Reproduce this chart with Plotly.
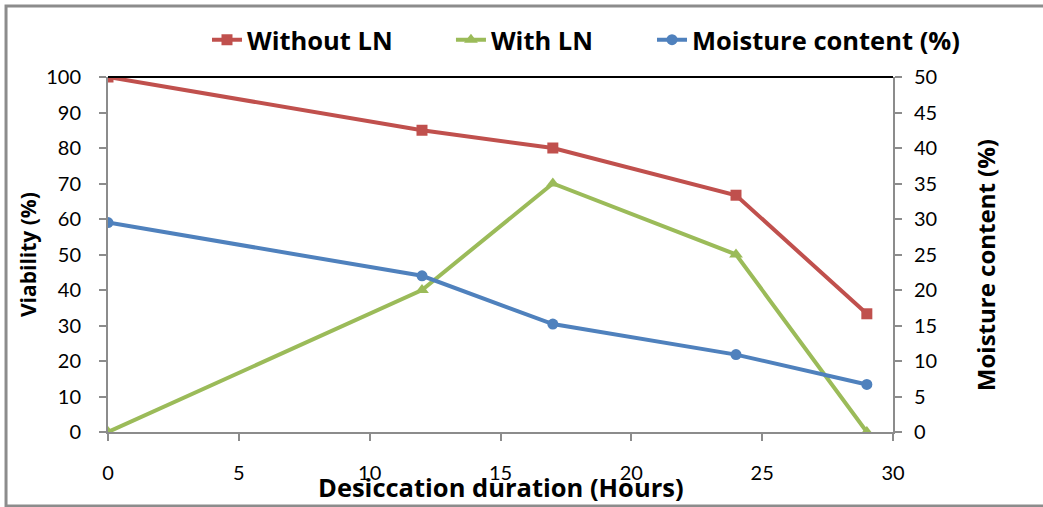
import plotly.graph_objects as go

# Desiccation duration (hours)
hours = [0, 12, 17, 24, 29]
# Viability (%) of seeds without and with liquid nitrogen exposure
without_ln = [100, 85, 80, 66.7, 33.3]
with_ln = [0, 40, 70, 50, 0]
# Seed moisture content (%), right axis
moisture = [29.5, 22.0, 15.2, 10.9, 6.7]

RED = "#C0504D"
GREEN = "#9BBB59"
BLUE = "#4F81BD"
GREY = "#8C8C8C"
TICK_FONT = "Lato"
BOLD_FONT = "Open Sans"

fig = go.Figure()
fig.add_trace(go.Scatter(
    x=hours, y=without_ln, name="Without LN", mode="lines+markers",
    line=dict(color=RED, width=4),
    marker=dict(symbol="square", size=11, color=RED),
    legend="legend",
))
fig.add_trace(go.Scatter(
    x=hours, y=with_ln, name="With LN", mode="lines+markers",
    line=dict(color=GREEN, width=4),
    marker=dict(symbol="triangle-up", size=12, color=GREEN),
    legend="legend2",
))
fig.add_trace(go.Scatter(
    x=hours, y=moisture, name="Moisture content (%)", mode="lines+markers",
    line=dict(color=BLUE, width=4),
    marker=dict(symbol="circle", size=11, color=BLUE),
    yaxis="y2", legend="legend3",
))

axis_common = dict(
    showline=True, linecolor=GREY, linewidth=2,
    ticks="outside", tickcolor=GREY, ticklen=7, tickwidth=1.5,
    showgrid=False, zeroline=False,
    tickfont=dict(family=TICK_FONT, size=20, color="black"),
)

legend_common = dict(
    orientation="h", xanchor="left", y=1.104, yanchor="middle",
    font=dict(family=BOLD_FONT, size=25.5, color="black", weight="bold"),
    bgcolor="rgba(0,0,0,0)",
)

fig.update_layout(
    width=1043, height=507,
    margin=dict(l=108, r=150, t=77, b=75, autoexpand=False),
    paper_bgcolor="white", plot_bgcolor="white",
    font=dict(family=TICK_FONT, color="black"),
    xaxis=dict(range=[0, 30], dtick=5, ticklabelstandoff=15, **axis_common),
    yaxis=dict(range=[0, 100], dtick=10, ticklabelstandoff=14, **axis_common),
    yaxis2=dict(range=[0, 50], dtick=5, overlaying="y", side="right",
                ticklabelstandoff=8, **axis_common),
    legend=dict(x=0.1261, **legend_common),
    legend2=dict(x=0.4369, **legend_common),
    legend3=dict(x=0.6930, **legend_common),
    showlegend=True,
)

# black frame line along the top of the plot area
fig.add_shape(type="line", xref="paper", yref="paper",
              x0=0, x1=1, y0=1, y1=1, line=dict(color="black", width=2))
# grey border around the whole chart
fig.add_shape(type="rect", xref="paper", yref="paper",
              x0=-0.1299, x1=1.2, y0=-0.2085, y1=1.2,
              line=dict(color=GREY, width=3), layer="below")

fig.add_annotation(text="Desiccation duration (Hours)", xref="paper", yref="paper",
                   x=0.501, y=-0.155, xanchor="center", yanchor="middle",
                   showarrow=False,
                   font=dict(family=BOLD_FONT, size=25.5, color="black", weight="bold"))
fig.add_annotation(text="Viability (%)", xref="paper", yref="paper",
                   x=-0.1025, y=0.5, xanchor="center", yanchor="middle",
                   textangle=-90, showarrow=False,
                   font=dict(family=BOLD_FONT, size=21, color="black", weight="bold"))
fig.add_annotation(text="Moisture content (%)", xref="paper", yref="paper",
                   x=1.1172, y=0.47, xanchor="center", yanchor="middle",
                   textangle=-90, showarrow=False,
                   font=dict(family=BOLD_FONT, size=24, color="black", weight="bold"))

fig.write_html("out.html")
